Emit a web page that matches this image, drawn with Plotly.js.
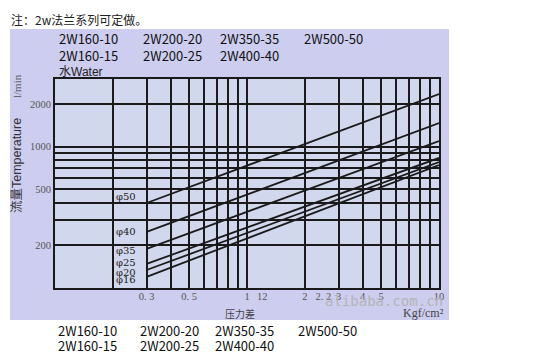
<!DOCTYPE html>
<html><head><meta charset="utf-8">
<script src="https://cdn.plot.ly/plotly-3.0.1.min.js"></script>
<style>html,body{margin:0;padding:0;background:#fff}#chart{width:549px;height:357px}</style>
</head><body><div id="chart"></div>
<script>
// ---- data ----
const pressure = [0.3, 10];
const seriesNames = ['φ50', 'φ40', 'φ35', 'φ25', 'φ20', 'φ16'];
const flow50 = [399, 2350];
const flow40 = [249, 1466];
const flow35 = [189, 1094];
const flow25 = [148, 830];
const flow20 = [134, 777];
const flow16 = [120, 740];
const xGrid = [0.1, 0.2, 0.3, 0.4, 0.5, 0.6, 0.7, 0.8, 0.9, 1, 2, 3, 4, 5, 6, 7, 8, 9, 10];
const xTickVals = [0.3, 0.5, 1, 1.2, 2, 2.5, 3, 4, 5, 10];
const xTickText = ['0. 3', '0. 5', '1', '12', '2', '2. 2', '3', '4', '5', '10'];
const yGrid = [100, 200, 300, 400, 500, 600, 700, 800, 900, 1000, 2000, 3000];
const yTickVals = [200, 500, 1000, 2000];
const yTickText = ['200', '500', '1000', '2000'];
const modelsRow1 = ['2W160-10', '2W200-20', '2W350-35', '2W500-50'];
const modelsRow2 = ['2W160-15', '2W200-25', '2W400-40'];
const noteText = '注：2w法兰系列可定做。';

// ---- layout helpers (pixel -> paper) ----
const L = 55, R = 439, T = 79, B = 288;
const px = x => (x - L) / (R - L);
const py = y => (B - y) / (B - T);

const flows = [flow50, flow40, flow35, flow25, flow20, flow16];
const ink = '#1a1a1a';
const serif = 'Liberation Serif, DejaVu Serif, serif';
const sans = 'Liberation Sans, Noto Sans CJK SC, sans-serif';
const cjk = 'Noto Sans CJK SC, sans-serif';

const traces = flows.map((f, i) => ({
  type: 'scatter', mode: 'lines', x: pressure, y: f, name: seriesNames[i],
  line: {color: ink, width: 1.8}, hoverinfo: 'skip', showlegend: false
}));
traces.push({type: 'scatter', mode: 'lines', x: pressure, y: flow50, xaxis: 'x2',
  line: {color: 'rgba(0,0,0,0)', width: 0}, hoverinfo: 'skip', showlegend: false});

const ann = [];
function txt(text, x, y, size, font, color, opts) {
  ann.push(Object.assign({text: text, xref: 'paper', yref: 'paper', x: px(x), y: py(y),
    showarrow: false, xanchor: 'left', yanchor: 'middle',
    font: {size: size, family: font, color: color}}, opts || {}));
}
txt(noteText, 9, 20, 12, cjk, '#222');
const rowX1 = [57, 141, 218, 302];
modelsRow1.forEach((m, i) => txt(m, rowX1[i], 39, 13, cjk, '#111'));
modelsRow2.forEach((m, i) => txt(m, rowX1[i], 55, 13, cjk, '#111'));
const rowX2 = [56, 138, 213, 296];
modelsRow1.forEach((m, i) => txt(m, rowX2[i], 330, 13, cjk, '#111'));
modelsRow2.forEach((m, i) => txt(m, rowX2[i], 345.5, 13, cjk, '#111'));
txt('水Water', 57, 72, 12, sans, '#222');
txt('l/min', 17, 86, 11, serif, '#666', {xanchor: 'center', textangle: -90});
txt('流量Temperature', 17, 166, 12.5, sans, '#333', {xanchor: 'center', textangle: -90});
txt('压力差', 240, 313, 10, cjk, '#444', {xanchor: 'center'});
txt('Kgf/cm²', 423, 313, 12, serif, '#444', {xanchor: 'center'});
txt('alibaba.com.cn', 384, 301, 14, 'DejaVu Sans Mono, monospace', '#b4b4b4', {xanchor: 'center'});

const yShift = [6, 0, -2, 1, -2, -3];
flows.forEach((f, i) => ann.push({
  text: seriesNames[i], xref: 'x', yref: 'y', x: Math.log10(pressure[0]), y: Math.log10(f[0]),
  xanchor: 'right', yanchor: 'middle', xshift: -9, yshift: yShift[i], showarrow: false,
  font: {size: 10, family: 'DejaVu Serif, serif', color: '#222'}
}));

const layout = {
  width: 549, height: 357,
  margin: {l: L, r: 549 - R, t: T, b: 357 - B, pad: 0},
  paper_bgcolor: '#ffffff', plot_bgcolor: '#d1d7ed',
  showlegend: false,
  xaxis: {type: 'log', range: [-1, 1], tickvals: xGrid, showticklabels: false, ticks: '',
    showgrid: true, gridcolor: ink, gridwidth: 2, zeroline: false,
    showline: true, mirror: true, linecolor: ink, linewidth: 2, fixedrange: true},
  xaxis2: {type: 'log', range: [-1, 1], overlaying: 'x', anchor: 'y', side: 'bottom',
    tickvals: xTickVals, ticktext: xTickText, showgrid: false, zeroline: false, ticks: '',
    showline: false, tickfont: {size: 10.5, family: serif, color: '#555'}, fixedrange: true},
  yaxis: {type: 'log', range: [2, Math.log10(3000)], tickvals: yGrid,
    ticktext: yGrid.map(v => { const k = yTickVals.indexOf(v); return k >= 0 ? yTickText[k] : ''; }),
    ticks: '', showgrid: true, gridcolor: ink, gridwidth: 2, zeroline: false,
    showline: true, mirror: true, linecolor: ink, linewidth: 2,
    tickfont: {size: 10.5, family: serif, color: '#555'}, fixedrange: true},
  shapes: [
    {type: 'rect', xref: 'paper', yref: 'paper', x0: px(10), x1: px(449), y0: py(320), y1: py(29),
      fillcolor: '#cdcdef', line: {width: 0}, layer: 'below'},
    {type: 'rect', xref: 'paper', yref: 'paper', x0: 0, x1: 1, y0: 0, y1: 1,
      fillcolor: '#d1d7ed', line: {width: 0}, layer: 'below'}
  ],
  annotations: ann
};
Plotly.newPlot('chart', traces, layout, {staticPlot: true, displayModeBar: false});
</script></body></html>
